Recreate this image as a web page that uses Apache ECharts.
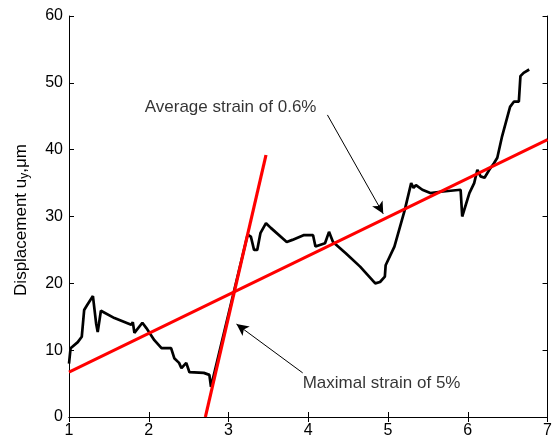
<!DOCTYPE html>
<html>
<head>
<meta charset="utf-8">
<script src="https://cdn.jsdelivr.net/npm/echarts@6/dist/echarts.min.js"></script>
<style>
  html, body { margin: 0; padding: 0; background: #fff; }
  #chart { width: 555px; height: 439px; }
</style>
</head>
<body>
<div id="chart"></div>
<script>
// measured displacement trace (x, u_y in um)
var traceX = [1.00, 1.02, 1.11, 1.16, 1.19, 1.23, 1.30, 1.34, 1.36, 1.40, 1.57, 1.78, 1.80, 1.82, 1.92, 1.97,
  2.07, 2.16, 2.28, 2.32, 2.38, 2.41, 2.47, 2.51, 2.69, 2.76, 2.78, 2.80, 3.24,
  3.28, 3.32, 3.36, 3.40, 3.47, 3.53, 3.73, 3.80, 3.94, 4.06, 4.09, 4.21, 4.26, 4.31, 4.47, 4.65, 4.84, 4.90, 4.96, 4.97,
  5.08, 5.21, 5.29, 5.32, 5.35, 5.43, 5.53, 5.66, 5.91, 5.93, 6.02, 6.08, 6.12, 6.16, 6.21, 6.27, 6.33, 6.37,
  6.43, 6.53, 6.58, 6.64, 6.66, 6.70, 6.77];
var traceY = [8.0, 10.3, 11.2, 12.0, 16.0, 16.8, 18.1, 14.0, 12.7, 15.9, 14.8, 13.8, 14.2, 12.6, 14.1, 13.3,
  11.5, 10.3, 10.3, 8.8, 8.1, 7.3, 8.1, 6.7, 6.6, 6.3, 4.5, 4.6, 27.3,
  27.0, 25.0, 25.0, 27.5, 29.0, 28.3, 26.2, 26.5, 27.2, 27.2, 25.5, 26.0, 27.7, 26.2, 24.5, 22.5, 20.0, 20.2, 21.0, 22.7,
  25.5, 31.0, 35.0, 34.3, 34.7, 34.0, 33.5, 33.7, 34.0, 30.0, 33.5, 35.0, 37.0, 36.0, 35.8, 37.0, 38.0, 38.8,
  42.0, 46.4, 47.2, 47.2, 51.0, 51.5, 52.0];

// fitted strain lines
var avgLine = [[1, 6.7], [7, 41.5]];
var maxLine = [[2.71, 0], [3.47, 39.2]];

// annotations: [text, anchor x, anchor y]
var notes = [
  ['Average strain of 0.6%', 1.95, 46.4],
  ['Maximal strain of 5%', 3.93, 5.1]
];
// arrows: [tail, tip]
var arrows = [
  [[4.24, 45.2], [4.94, 30.4]],
  [[3.93, 6.6], [3.10, 13.9]]
];

var xTicks = [1, 7, 1];
var yTicks = [0, 60, 10];

var font = 'Liberation Sans, Arial, sans-serif';
var trace = traceX.map(function (x, i) { return [x, traceY[i]]; });

var chart = echarts.init(document.getElementById('chart'));

function boxAxis(range, pos, show) {
  return {
    type: 'value', position: pos, min: range[0], max: range[1], interval: range[2],
    axisLine: { show: true, lineStyle: { color: '#000', width: 1 } },
    axisTick: { show: true, inside: true, length: 5, lineStyle: { color: '#000' } },
    axisLabel: { show: show, color: '#000', fontSize: 16, fontFamily: font, margin: 6 },
    splitLine: { show: false }
  };
}

chart.setOption({
  animation: false,
  backgroundColor: '#fff',
  grid: { left: 69, right: 4, top: 16, bottom: 22, containLabel: false },
  xAxis: [boxAxis(xTicks, 'bottom', true), boxAxis(xTicks, 'top', false)],
  yAxis: [boxAxis(yTicks, 'left', true), boxAxis(yTicks, 'right', false)],
  graphic: [{
    type: 'text', x: 21, y: 220, rotation: Math.PI / 2, z: 10,
    style: {
      text: 'Displacement u{sub|y},μm',
      align: 'center', verticalAlign: 'middle',
      fill: '#000', fontSize: 17, fontFamily: font,
      rich: { sub: { fontSize: 12, fontFamily: font, fill: '#000', padding: [7, 0, 0, 0] } }
    }
  }],
  series: [
    {
      type: 'line', data: trace, showSymbol: false, symbol: 'none',
      lineStyle: { color: '#000', width: 2.7 }, z: 2
    },
    {
      type: 'line', data: avgLine, symbol: 'none',
      lineStyle: { color: '#ff0000', width: 3 }, z: 3
    },
    {
      type: 'line', data: maxLine, symbol: 'none',
      lineStyle: { color: '#ff0000', width: 3.2 }, z: 3,
      markLine: {
        silent: true, symbol: ['none', 'arrow'], symbolSize: [9, 12],
        lineStyle: { color: '#000', width: 1, type: 'solid' },
        label: { show: false },
        data: arrows.map(function (a) {
          return [{ coord: a[0] }, { coord: a[1] }];
        })
      }
    },
    {
      type: 'scatter', symbolSize: 0, silent: true, z: 4,
      data: notes.map(function (n) { return { value: [n[1], n[2]], name: n[0] }; }),
      label: {
        show: true, position: 'right', distance: 0, formatter: '{b}',
        color: '#000', fontSize: 17, fontFamily: font
      }
    }
  ]
});
</script>
</body>
</html>
